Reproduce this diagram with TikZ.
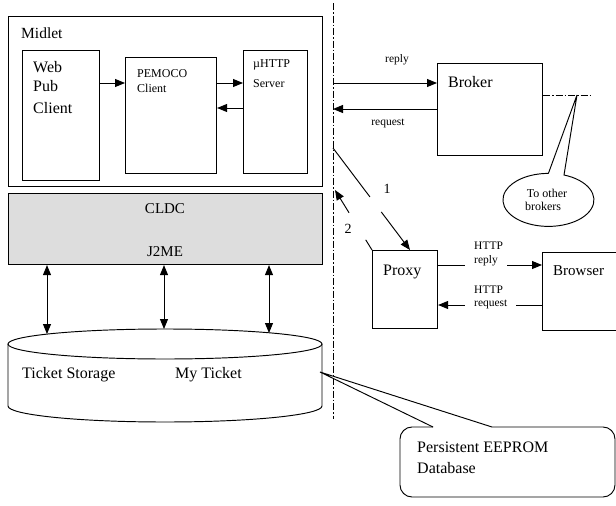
\documentclass[tikz,border=0pt]{standalone}
\usepackage{fontspec}
\setmainfont{Liberation Serif}
\usetikzlibrary{arrows.meta,calc}
\definecolor{cldcgray}{RGB}{221,221,221}
\newcommand\myfs[1]{\fontsize{#1}{#1}\selectfont}
\begin{document}
\begin{tikzpicture}[x=1pt,y=-1pt,
  box/.style={draw, line width=1.1pt, inner sep=0pt, anchor=north west},
  txt/.style={inner sep=0pt, anchor=base west},
  ctxt/.style={inner sep=0pt, anchor=base},
  hl/.style={txt, fill=white, inner xsep=9pt, inner ysep=1pt},
  conn/.style={line width=0.95pt},
  arr/.style={conn, -{Triangle[length=10pt,width=8pt]}},
  darr/.style={conn, {Triangle[length=10pt,width=8pt]}-{Triangle[length=10pt,width=8pt]}},
  dashdot/.style={line width=0.9pt, dash pattern=on 7pt off 2pt on 1.5pt off 2pt}
]
\useasboundingbox (0,0) rectangle (616,506);

% boxes
\node[box, minimum width=314pt, minimum height=170pt] (midlet) at (8,16) {};
\node[box, minimum width=77pt, minimum height=130pt] (web) at (22,50) {};
\node[box, minimum width=91pt, minimum height=116pt] (pemoco) at (125,57) {};
\node[box, minimum width=64pt, minimum height=123pt] (uhttp) at (243,50) {};
\node[box, fill=cldcgray, minimum width=314pt, minimum height=71pt] (cldc) at (8,193) {};
\node[box, minimum width=105pt, minimum height=92pt] (broker) at (437,63) {};
\node[box, minimum width=65pt, minimum height=78pt] (proxy) at (372,250) {};
\node[box, minimum width=120pt, minimum height=78pt] (browser) at (542,252) {};

% texts
\node[txt, font=\myfs{15.5}] (tmidlet) at (21,38) {Midlet};
\node[txt, font=\myfs{16}] (tweb) at (33,72) {Web};
\node[txt, font=\myfs{16}] (tpub) at (33,91) {Pub};
\node[txt, font=\myfs{16}] (tclient) at (33,113) {Client};
\node[txt, font=\myfs{12}] (tpemoco) at (137,77) {PEMOCO};
\node[txt, font=\myfs{12}] (tpclient) at (137,92) {Client};
\node[txt, font=\myfs{12}] (tuhttp) at (253,67) {µHTTP};
\node[txt, font=\myfs{12}] (tserver) at (253,87) {Server};
\node[ctxt, font=\myfs{15}] (tcldc) at (165,213) {CLDC};
\node[ctxt, font=\myfs{15}] (tj2me) at (165,256) {J2ME};
\node[ctxt, font=\myfs{11.5}] (treply) at (397,62) {reply};
\node[ctxt, font=\myfs{11.5}] (trequest) at (388,125) {request};
\node[txt, font=\myfs{16}] (tbroker) at (448,87) {Broker};
\node[ctxt, font=\myfs{12}] (tto) at (547,197) {To other};
\node[ctxt, font=\myfs{12}] (tbrokers) at (543,210) {brokers};
\node[ctxt, font=\myfs{14}] (tone) at (387,193) {1};
\node[ctxt, font=\myfs{14}] (ttwo) at (348,233) {2};
\node[txt, font=\myfs{16}] (tproxy) at (383,275) {Proxy};
\node[txt, font=\myfs{15}] (tbrowser) at (553,275) {Browser};
\node[txt, font=\myfs{16}] (tticket) at (22,378) {Ticket Storage};
\node[txt, font=\myfs{16}] (tmy) at (175,378) {My Ticket};
\node[txt, font=\myfs{16}] (tpers) at (417,452) {Persistent EEPROM};
\node[txt, font=\myfs{16}] (tdb) at (417,473) {Database};

% midlet internal arrows
\draw[arr] (web.east |- 0,83) -- (pemoco.west |- 0,83);
\draw[arr] (pemoco.east |- 0,83) -- (uhttp.west |- 0,83);
\draw[arr] (uhttp.west |- 0,108) -- (pemoco.east |- 0,108);

% dash-dot boundary
\coordinate (dtop) at (333,3);
\coordinate (dbot) at (333,419);
\draw[dashdot] (dtop) -- (dbot);

% broker arrows
\draw[arr] (dtop |- 0,83) -- (broker.west |- 0,83);
\draw[arr] (broker.west |- 0,109) -- (dtop |- 0,109);
\coordinate (oth) at (593,95);
\draw[dashdot] (broker.east |- 0,95) -- (oth);
\coordinate (ctip) at (577,95);
\draw[conn] (548.4,173.4) -- (ctip) -- (564,175)
  arc[start angle=-70, end angle=270, x radius=45.5, y radius=26.5];

% arrows 1 and 2
\coordinate (s1) at (333,148);
\coordinate (e1) at (proxy.north -| 410,0);
\draw[conn] (s1) -- ($(s1)!0.48!(e1)$);
\draw[arr] ($(s1)!0.627!(e1)$) -- (e1);
\coordinate (e2) at (335,190);
\draw[conn] (proxy.north west) -- ($(proxy.north west)!0.17!(e2)$);
\draw[arr] ($(proxy.north west)!0.62!(e2)$) -- (e2);

% HTTP arrows
\draw[arr] (proxy.east |- 0,265) -- (browser.west |- 0,265);
\draw[arr] (browser.west |- 0,305) -- (proxy.east |- 0,305);
\node[txt, font=\myfs{11.5}] (thttp1) at (474,249) {HTTP};
\node[hl, font=\myfs{11.5}] (threply) at (465,263) {reply};
\node[txt, font=\myfs{11.5}] (thttp2) at (474,293) {HTTP};
\node[hl, font=\myfs{11.5}] (threq) at (465,306) {request};

% cylinder
\draw[conn] (165,344) ellipse[x radius=157, y radius=15];
\draw[conn] (8,344) -- (8,406) arc[start angle=180, end angle=0, x radius=157, y radius=16] -- (322,344);
\coordinate (c1) at (47,334);
\coordinate (c2) at (164,329);
\coordinate (c3) at (269,333);
\draw[darr] (cldc.south -| c1) -- (c1);
\draw[darr] (cldc.south -| c2) -- (c2);
\draw[darr] (cldc.south -| c3) -- (c3);

% persistent callout
\coordinate (ptip) at (320,372);
\draw[conn, rounded corners=12pt] (433,427) -- (400,427) -- (400,497) -- (615,497) -- (615,427) -- (492,427);
\draw[conn] (433,427) -- (ptip) -- (492,427);
\end{tikzpicture}
\end{document}
